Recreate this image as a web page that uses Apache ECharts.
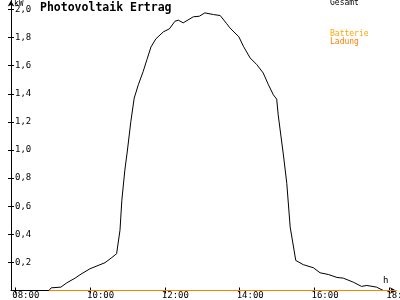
<!DOCTYPE html>
<html><head><meta charset="utf-8">
<script src="https://cdn.jsdelivr.net/npm/echarts@6/dist/echarts.min.js"></script>
<style>html,body{margin:0;padding:0;background:#fff}#c{width:400px;height:300px}</style>
</head><body><div id="c"></div>
<script>
// Data (hours of day, kW)
var gesamtHours = [8.90,8.96,9.22,9.38,9.60,9.73,10.00,10.40,10.58,10.71,10.80,10.85,10.93,11.00,11.09,11.18,11.29,11.42,11.52,11.63,11.76,11.96,12.12,12.27,12.36,12.49,12.76,12.92,13.07,13.30,13.48,13.65,13.74,13.98,14.10,14.28,14.46,14.63,14.77,14.90,14.99,15.03,15.10,15.17,15.26,15.35,15.50,15.70,15.97,16.15,16.37,16.60,16.77,17.04,17.26,17.40,17.66,17.84];
var gesamtValues = [0,0.019,0.024,0.055,0.088,0.112,0.155,0.198,0.234,0.262,0.429,0.643,0.857,1.0,1.202,1.369,1.464,1.559,1.643,1.734,1.791,1.841,1.862,1.916,1.924,1.905,1.948,1.952,1.976,1.964,1.957,1.900,1.869,1.805,1.738,1.655,1.607,1.548,1.464,1.393,1.362,1.25,1.107,0.964,0.762,0.452,0.214,0.184,0.162,0.126,0.114,0.093,0.088,0.059,0.029,0.036,0.024,0];
var ladungHours = [8.90,18.30];
var ladungValues = [0,0];
var xTickValues = [8,10,12,14,16,18];
var yTickValues = [0.2,0.4,0.6,0.8,1.0,1.2,1.4,1.6,1.8,2.0];

function pairs(xs, ys){ return xs.map(function(x,i){ return [x, ys[i]]; }); }
var FONT = 'DejaVu Sans Mono';
var chart = echarts.init(document.getElementById('c'), null, {renderer:'canvas'});
var xCommon = {type:'value', min:7.886, max:18.18, splitLine:{show:false}};
var yCommon = {type:'value', min:0, max:2.064, splitLine:{show:false}};
chart.setOption({
  animation:false,
  backgroundColor:'#ffffff',
  grid:{left:11, right:4, top:0.5, bottom:9.5, containLabel:false, outerBoundsMode:'none'},
  xAxis:[
    Object.assign({}, xCommon, {
      position:'bottom',
      axisLine:{show:true, lineStyle:{color:'#000', width:1}, symbol:['none','arrow'], symbolSize:[5,6]},
      axisTick:{show:true, inside:false, length:3, customValues:xTickValues, lineStyle:{color:'#000'}},
      axisLabel:{show:true, customValues:xTickValues, margin:1, align:'left', color:'#000',
        fontFamily:FONT, fontSize:9, padding:[0,0,0,-3],
        formatter:function(v){ var h=Math.round(v); return (h<10?'0':'')+h+':00'; }}
    }),
    Object.assign({}, xCommon, {
      position:'bottom',
      axisLine:{show:false},
      axisTick:{show:true, inside:true, length:3, customValues:xTickValues, lineStyle:{color:'#000'}},
      axisLabel:{show:false}
    })
  ],
  yAxis:[
    Object.assign({}, yCommon, {
      position:'left',
      axisLine:{show:true, lineStyle:{color:'#000', width:1}, symbol:['none','arrow'], symbolSize:[5,6]},
      axisTick:{show:true, inside:false, length:3, customValues:yTickValues, lineStyle:{color:'#000'}},
      axisLabel:{show:true, inside:true, margin:4, customValues:yTickValues, color:'#000',
        fontFamily:FONT, fontSize:9,
        formatter:function(v){ return v.toFixed(1).replace('.', ','); }}
    }),
    Object.assign({}, yCommon, {
      position:'left',
      axisLine:{show:false},
      axisTick:{show:true, inside:true, length:3, customValues:yTickValues, lineStyle:{color:'#000'}},
      axisLabel:{show:false}
    })
  ],
  series:[
    {name:'Gesamt', type:'line', xAxisIndex:0, yAxisIndex:0, data:pairs(gesamtHours, gesamtValues),
     showSymbol:false, symbol:'none', lineStyle:{color:'#000', width:1}, z:3},
    {name:'Ladung', type:'line', xAxisIndex:0, yAxisIndex:0, data:pairs(ladungHours, ladungValues),
     showSymbol:false, symbol:'none', lineStyle:{color:'#ff8000', width:1}, z:4}
  ],
  graphic:[
    {type:'text', left:40, top:2, style:{text:'Photovoltaik Ertrag', font:'bold 11.5px "DejaVu Sans Mono"', fill:'#000'}},
    {type:'text', left:14, top:0, style:{text:'kW', font:'8px "DejaVu Sans Mono"', fill:'#000'}},
    {type:'text', left:330, top:-1, style:{text:'Gesamt', font:'8px "DejaVu Sans Mono"', fill:'#000'}},
    {type:'text', left:330, top:30, style:{text:'Batterie', font:'8px "DejaVu Sans Mono"', fill:'#ffa500'}},
    {type:'text', left:330, top:38, style:{text:'Ladung', font:'8px "DejaVu Sans Mono"', fill:'#ff7f00'}},
    {type:'text', left:383, top:276, style:{text:'h', font:'9px "DejaVu Sans Mono"', fill:'#000'}}
  ]
});
</script></body></html>
